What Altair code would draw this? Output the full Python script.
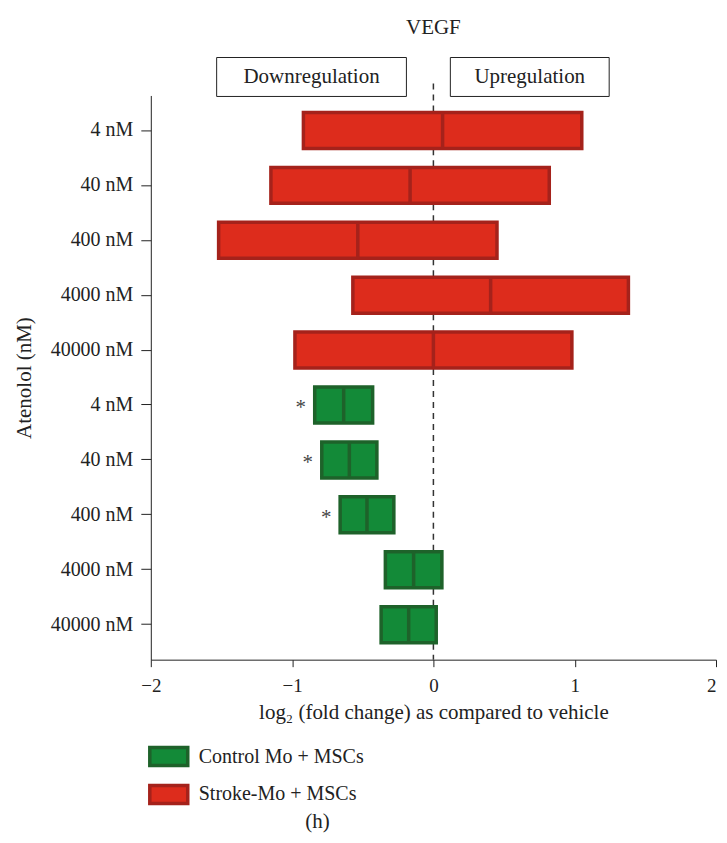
import altair as alt
import pandas as pd

# ---- data ----
concentrations = ["4 nM", "40 nM", "400 nM", "4000 nM", "40000 nM"]
stroke_low = [-0.92, -1.15, -1.52, -0.57, -0.98]
stroke_high = [1.05, 0.82, 0.45, 1.38, 0.98]
control_low = [-0.84, -0.79, -0.66, -0.34, -0.37]
control_high = [-0.43, -0.40, -0.28, 0.06, 0.02]
control_signif = [True, True, True, False, False]

groups = ["Control Mo + MSCs", "Stroke-Mo + MSCs"]
fill_colors = ["#138A38", "#DD2C1C"]
stroke_colors = ["#1E622A", "#A5221B"]

region_labels = ["Downregulation", "Upregulation"]
region_x1 = [-1.534, 0.12]
region_x2 = [-0.191, 1.244]

x_ticks = [-2, -1, 0, 1, 2]

# ---- build table ----
rows = []
for c, lo, hi in zip(concentrations, stroke_low, stroke_high):
    rows.append({"row": "S|" + c, "group": groups[1], "low": lo, "high": hi, "sig": False})
for c, lo, hi, s in zip(concentrations, control_low, control_high, control_signif):
    rows.append({"row": "C|" + c, "group": groups[0], "low": lo, "high": hi, "sig": s})
df = pd.DataFrame(rows)
row_order = list(df["row"])

regions = pd.DataFrame({"label": region_labels, "x1": region_x1, "x2": region_x2})

FONT = "Liberation Serif"
INK = "#222"
W, H = 566, 565

xscale = alt.Scale(domain=[-2, 2], nice=False, zero=False)
yscale = alt.Scale(domain=row_order, paddingInner=0.345, paddingOuter=0.31)

legend_kw = dict(title=None, orient="none", legendX=-3, legendY=641,
                 symbolType="M-1,-0.47H1V0.47H-1Z", symbolSize=1444,
                 symbolStrokeWidth=3.5, symbolOpacity=1,
                 labelFont=FONT, labelFontSize=20, labelColor=INK, labelLimit=400,
                 labelOffset=9, rowPadding=1, padding=0)

base = alt.Chart(df)

bars = base.mark_bar(strokeWidth=3.5).encode(
    x=alt.X("low:Q", scale=xscale,
            axis=alt.Axis(values=x_ticks, format="d", grid=False, tickSize=7,
                          labelFlush=False, labelOverlap=False,
                          labelAlign={"condition": {"test": "datum.value == 2", "value": "right"},
                                      "value": "center"},
                          labelFontSize=19, labelFont=FONT, labelColor=INK, labelPadding=10,
                          title="log\u2082 (fold change) as compared to vehicle",
                          titleFont=FONT, titleFontSize=21, titleFontWeight="normal",
                          titleColor=INK, titlePadding=6, domainColor=INK,
                          tickColor=INK)),
    x2="high:Q",
    y=alt.Y("row:N", scale=yscale, sort=row_order,
            axis=alt.Axis(labelExpr="split(datum.label, '|')[1]", tickSize=10,
                          labelPadding=8, labelFont=FONT, labelFontSize=20,
                          labelColor=INK, title="Atenolol (nM)", titleFont=FONT,
                          titleFontSize=21, titleFontWeight="normal", titleColor=INK,
                          titlePadding=16, domainColor=INK, tickColor=INK)),
    fill=alt.Fill("group:N", scale=alt.Scale(domain=groups, range=fill_colors),
                  legend=alt.Legend(**legend_kw)),
    stroke=alt.Stroke("group:N", scale=alt.Scale(domain=groups, range=stroke_colors),
                      legend=alt.Legend(**legend_kw)),
)

dividers = base.transform_calculate(mid="(datum.low + datum.high) / 2").mark_tick(
    thickness=3.5, size=36, opacity=1
).encode(
    x=alt.X("mid:Q", scale=xscale),
    y=alt.Y("row:N", scale=yscale, sort=row_order),
    color=alt.Color("group:N", scale=alt.Scale(domain=groups, range=stroke_colors), legend=None),
)

stars = base.transform_filter("datum.sig").mark_text(
    text="*", dx=-14, dy=3, fontSize=21, font=FONT, color="#444"
).encode(
    x=alt.X("low:Q", scale=xscale),
    y=alt.Y("row:N", scale=yscale, sort=row_order),
)

zero_line = alt.Chart(pd.DataFrame({"z": [0]})).mark_rule(
    strokeDash=[6, 5], strokeWidth=1.5, color="#333"
).encode(x=alt.X("z:Q", scale=xscale), y=alt.value(-12), y2=alt.value(H))

boxes = alt.Chart(regions).mark_rect(fill="white", stroke=INK, strokeWidth=1).encode(
    x=alt.X("x1:Q", scale=xscale), x2="x2:Q", y=alt.value(-38), y2=alt.value(1)
)
box_text = alt.Chart(regions).transform_calculate(xm="(datum.x1 + datum.x2) / 2").mark_text(
    font=FONT, fontSize=21, color=INK, baseline="middle"
).encode(x=alt.X("xm:Q", scale=xscale), y=alt.value(-18), text="label:N")

caption = alt.Chart(pd.DataFrame({"t": ["(h)"]})).mark_text(
    font=FONT, fontSize=21, color=INK, baseline="middle"
).encode(x=alt.value(167), y=alt.value(728), text="t:N")

chart = alt.layer(zero_line, bars, dividers, stars, boxes, box_text, caption).properties(
    width=W, height=H,
    title=alt.Title("VEGF", font=FONT, fontSize=21, fontWeight="normal", color=INK,
                    offset=19, anchor="middle"),
    autosize=alt.AutoSizeParams(type="none"),
    padding={"left": 143, "top": 87, "right": 3, "bottom": 173},
).configure_view(stroke=None)

chart.save("out.html", embed_options={"renderer": "svg", "actions": False})
